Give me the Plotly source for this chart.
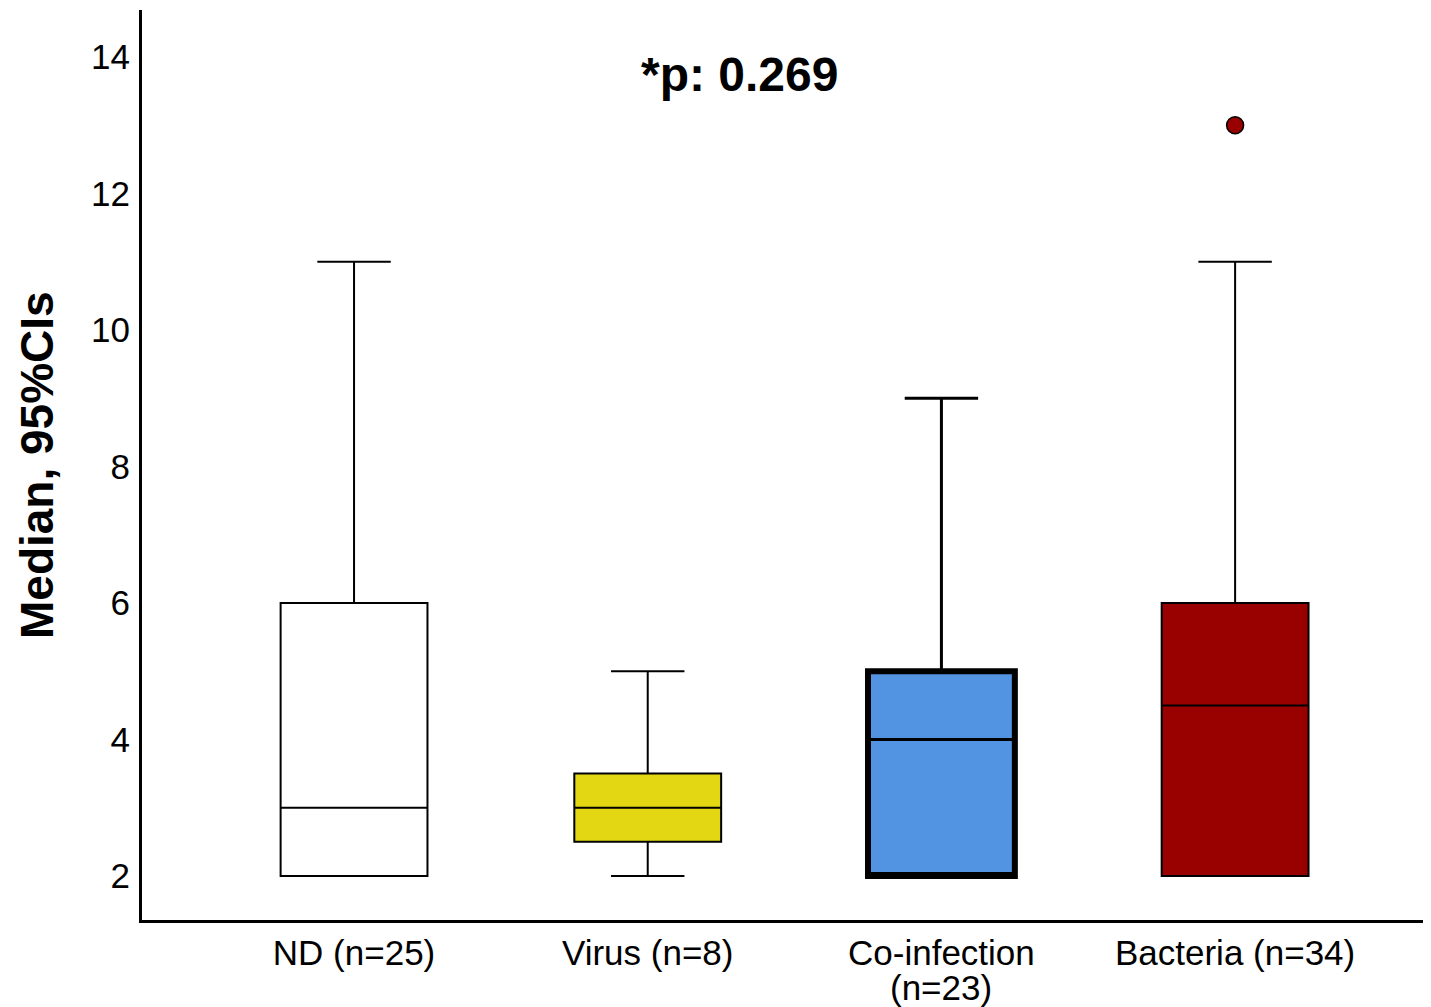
import plotly.graph_objects as go

categories = ["ND (n=25)", "Virus (n=8)", "Co-infection<br>(n=23)", "Bacteria (n=34)"]
q1 = [2, 2.5, 2, 2]
median = [3, 3, 4, 4.5]
q3 = [6, 3.5, 5, 6]
lower = [2, 2, 2, 2]
upper = [11, 5, 9, 11]
fills = ["#FFFFFF", "#E2D712", "#5394E2", "#990000"]
outlier_cat = [3]
outlier_val = [13]
y_ticks = [2, 4, 6, 8, 10, 12, 14]

fig = go.Figure()
for i, c in enumerate(categories):
    if i == 2:
        # thick-outlined box (whiskers drawn thin by the next trace)
        fig.add_trace(go.Box(
            x=[i], q1=[q1[i]], median=[q1[i]], q3=[q3[i]],
            lowerfence=[q1[i]], upperfence=[q3[i]],
            fillcolor=fills[i], line=dict(color="black", width=6),
            width=0.5, whiskerwidth=0.5, boxpoints=False, showlegend=False,
            hoverinfo="skip"))
        fig.add_trace(go.Box(
            x=[i], q1=[q1[i]], median=[median[i]], q3=[q3[i]],
            lowerfence=[lower[i]], upperfence=[upper[i]],
            fillcolor="rgba(0,0,0,0)", line=dict(color="black", width=3),
            width=0.5, whiskerwidth=0.5, boxpoints=False, showlegend=False))
    else:
        fig.add_trace(go.Box(
            x=[i], q1=[q1[i]], median=[median[i]], q3=[q3[i]],
            lowerfence=[lower[i]], upperfence=[upper[i]],
            fillcolor=fills[i], line=dict(color="black", width=2),
            width=0.5, whiskerwidth=0.5, boxpoints=False, showlegend=False))

fig.add_trace(go.Scatter(
    x=outlier_cat, y=outlier_val, mode="markers",
    marker=dict(color="#990000", size=17, line=dict(color="black", width=1.5)),
    showlegend=False))

font_family = "Liberation Sans, Arial, sans-serif"
OFF = 8  # page body offset
W, H = 1431, 1007
# desired plot area in screen pixels
L, R, T, B = 142, 1431, 10, 920

first_lines = [c.split("<br>")[0] for c in categories]
extra_lines = [c.split("<br>")[1:] for c in categories]

fig.update_layout(
    width=W, height=H,
    margin=dict(l=L - OFF, r=W - (R - OFF), t=T - OFF, b=H - (B - OFF), autoexpand=False),
    paper_bgcolor="white", plot_bgcolor="white",
    boxmode="overlay",
    showlegend=False,
    font=dict(family=font_family, color="black"),
    xaxis=dict(
        range=[-0.722, 3.667], tickmode="array",
        tickvals=list(range(len(categories))), ticktext=first_lines,
        showgrid=False, zeroline=False, showline=True, linecolor="black",
        linewidth=3, ticks="", ticklabelstandoff=0, automargin=False,
        tickfont=dict(size=35, family=font_family, color="black")),
    yaxis=dict(
        range=[1.355, 14.69], tickmode="array", tickvals=y_ticks,
        ticktext=[str(v) for v in y_ticks],
        showgrid=False, zeroline=False, showline=True, linecolor="black",
        linewidth=3, ticks="", ticklabelstandoff=2, automargin=False,
        tickfont=dict(size=35, family=font_family, color="black")),
)

for i, lines in enumerate(extra_lines):
    for k, ln in enumerate(lines):
        fig.add_annotation(text=ln, xref="x", yref="paper", x=i,
                           y=-(987 + 33 * k - B) / (B - T),
                           xanchor="center", yanchor="middle", showarrow=False,
                           font=dict(size=35, family=font_family, color="black"))

fig.add_annotation(text="<b>*p: 0.269</b>", xref="paper", yref="paper",
                   x=(739 - L) / (R - L), y=1 - (75 - T) / (B - T),
                   xanchor="center", yanchor="middle", showarrow=False,
                   font=dict(size=48, family=font_family, color="black"))
fig.add_annotation(text="<b>Median, 95%CIs</b>", xref="paper", yref="paper",
                   x=(37 - L) / (R - L), y=1 - (465 - T) / (B - T),
                   xanchor="center", yanchor="middle", textangle=-90, showarrow=False,
                   font=dict(size=46, family=font_family, color="black"))

fig.write_html("out.html")
